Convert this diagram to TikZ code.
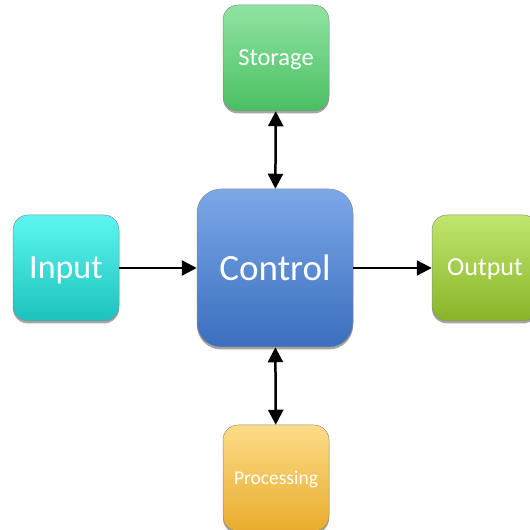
\documentclass[tikz,border=0pt]{standalone}
\usepackage{fontspec}
\setmainfont{Carlito}
\usetikzlibrary{arrows.meta,shadows}
\definecolor{ctrlTop}{HTML}{7CA8E8}
\definecolor{ctrlBot}{HTML}{3A6EBE}
\definecolor{inTop}{HTML}{5CF6F0}
\definecolor{inBot}{HTML}{1CC2BC}
\definecolor{outTop}{HTML}{C0E66E}
\definecolor{outBot}{HTML}{88B428}
\definecolor{stTop}{HTML}{90E4A2}
\definecolor{stBot}{HTML}{4ABF62}
\definecolor{prTop}{HTML}{FDDC88}
\definecolor{prBot}{HTML}{E8AC2C}
\tikzset{
  block/.style={rectangle, draw=black!45, line width=0.5pt, text=white,
    inner sep=0pt, align=center, text depth=0.1em,
    drop shadow={shadow xshift=0pt, shadow yshift=-2.5pt, opacity=0.35, fill=black}},
  bigblock/.style={block, minimum width=156pt, minimum height=158pt,
    rounded corners=24pt, font=\fontsize{37}{40}\selectfont},
  smallblock/.style={block, minimum width=106pt, minimum height=106pt,
    rounded corners=15pt},
  tip/.tip={Triangle[length=15pt,width=15pt]},
  link/.style={line width=2.5pt, draw=black, -tip},
  bilink/.style={line width=2.5pt, draw=black, tip-tip}
}
\begin{document}
\begin{tikzpicture}[x=1pt,y=1pt]
  \useasboundingbox (0,0) rectangle (530,530);
  \clip (0,0) rectangle (530,530);

  \node[bigblock, top color=ctrlTop, bottom color=ctrlBot] (ctrl) at (275,262) {Control};
  \node[smallblock, top color=inTop, bottom color=inBot,
        font=\fontsize{34}{38}\selectfont] (in) at (66,262) {Input};
  \node[smallblock, top color=outTop, bottom color=outBot,
        font=\fontsize{26}{30}\selectfont] (out) at (485,262) {Output};
  \node[smallblock, top color=stTop, bottom color=stBot,
        font=\fontsize{24.5}{28}\selectfont] (st) at (276,472) {Storage};
  \node[smallblock, top color=prTop, bottom color=prBot,
        font=\fontsize{19.5}{24}\selectfont] (pr) at (276,52) {Processing};

  \draw[link] (in) -- (ctrl);
  \draw[link] (ctrl) -- (out);
  \draw[bilink] (st) -- (ctrl);
  \draw[bilink] (pr) -- (ctrl);
\end{tikzpicture}
\end{document}
